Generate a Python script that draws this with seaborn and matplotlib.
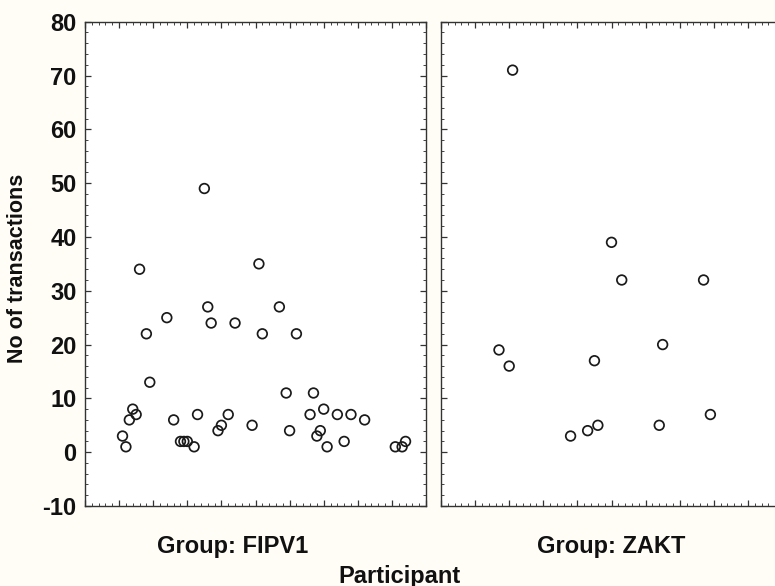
import matplotlib
matplotlib.use("Agg")
import matplotlib.pyplot as plt
from matplotlib.ticker import MultipleLocator, NullFormatter
import seaborn as sns
import pandas as pd

# ---- data ----
fipv1_participant = [11, 12, 13, 14, 15, 16, 18, 19, 24, 26, 28, 29, 30, 32, 33,
                     35, 36, 37, 39, 40, 42, 44, 49, 51, 52, 57, 59, 60, 62, 66,
                     67, 68, 69, 70, 71, 74, 76, 78, 82, 91, 93, 94]
fipv1_transactions = [3, 1, 6, 8, 7, 34, 22, 13, 25, 6, 2, 2, 2, 1, 7,
                      49, 27, 24, 4, 5, 7, 24, 5, 35, 22, 27, 11, 4, 22, 7,
                      11, 3, 4, 8, 1, 7, 2, 7, 6, 1, 1, 2]
zakt_participant = [17, 20, 21, 38, 43, 45, 46, 50, 53, 64, 65, 77, 79]
zakt_transactions = [19, 16, 71, 3, 4, 17, 5, 39, 32, 5, 20, 32, 7]
groups = ["FIPV1", "ZAKT"]
y_ticks = [-10, 0, 10, 20, 30, 40, 50, 60, 70, 80]

df = pd.concat([
    pd.DataFrame({"Group": "FIPV1", "Participant": fipv1_participant,
                  "Transactions": fipv1_transactions}),
    pd.DataFrame({"Group": "ZAKT", "Participant": zakt_participant,
                  "Transactions": zakt_transactions}),
])

sns.set_theme(style="white")
plt.rcParams["font.family"] = ["Liberation Sans", "DejaVu Sans"]
plt.rcParams["font.weight"] = "bold"
plt.rcParams["axes.unicode_minus"] = False

W, H = 775, 586
fig = plt.figure(figsize=(W / 100, H / 100), dpi=100)
fig.patch.set_facecolor("#fffdf6")

def px_rect(x0, y0, x1, y1):
    return [x0 / W, 1 - y1 / H, (x1 - x0) / W, (y1 - y0) / H]

axes = [fig.add_axes(px_rect(85, 21.7, 426, 506)),
        fig.add_axes(px_rect(441, 21.7, 782, 506))]

for i, (ax, g) in enumerate(zip(axes, groups)):
    sub = df[df["Group"] == g]
    sns.scatterplot(data=sub, x="Participant", y="Transactions", ax=ax,
                    marker="o", s=48, facecolor="none", edgecolor="#1a1a1a",
                    linewidth=1.25, legend=False, zorder=3)
    ax.set_facecolor("white")
    ax.set_xlim(0, 100)
    ax.set_ylim(-10, 80)
    ax.set_yticks(y_ticks)
    ax.xaxis.set_major_locator(MultipleLocator(10))
    ax.xaxis.set_minor_locator(MultipleLocator(2))
    ax.yaxis.set_minor_locator(MultipleLocator(2))
    ax.xaxis.set_major_formatter(NullFormatter())
    ax.tick_params(axis="both", which="major", direction="in", length=4,
                   width=0.9, color="#333333", top=True, right=True,
                   bottom=True, left=True)
    ax.tick_params(axis="both", which="minor", direction="in", length=2,
                   width=0.7, color="#444444", top=True, right=True,
                   bottom=True, left=True)
    for sp in ax.spines.values():
        sp.set_color("#333333")
        sp.set_linewidth(1.0)
    ax.set_xlabel("")
    ax.set_ylabel("")
    if i == 0:
        ax.tick_params(axis="y", which="major", labelsize=17, pad=6,
                       labelcolor="#111111")
        for t in ax.get_yticklabels():
            t.set_fontweight("bold")
    else:
        ax.yaxis.set_major_formatter(NullFormatter())

txt = dict(fontsize=17, fontweight="bold", color="#111111",
           ha="center", va="center")
fig.text(233 / W, 1 - 547 / H, "Group: FIPV1", **txt)
fig.text(611 / W, 1 - 547 / H, "Group: ZAKT", **txt)
fig.text(400 / W, 1 - 576 / H, "Participant", **txt)
fig.text(18 / W, 1 - 268 / H, "No of transactions", rotation=90,
         **dict(txt, fontsize=15.5))

fig.savefig("out.png", dpi=100, facecolor=fig.get_facecolor())
